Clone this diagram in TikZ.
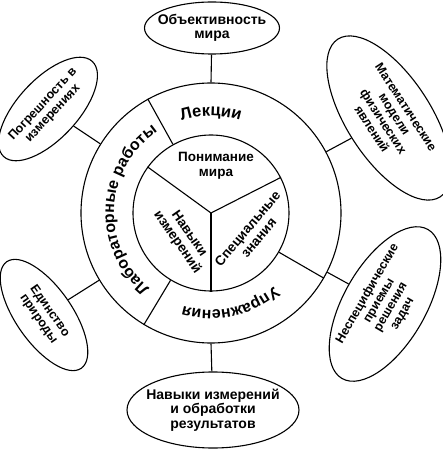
\documentclass[tikz,border=0pt]{standalone}
\usepackage{fontspec}
\setmainfont{Liberation Sans}
\usetikzlibrary{shapes.geometric,decorations.text}

\begin{document}
\begin{tikzpicture}[x=1pt,y=1pt,line width=1.1pt,font=\bfseries\fontsize{13.5}{14.5}\selectfont]
    \tikzstyle{oval}=[ellipse,draw,align=center,inner sep=-12pt,font=\bfseries\fontsize{12.5}{13.5}\selectfont]
    \tikzstyle{sector}=[align=center,inner sep=0pt]
    \tikzstyle{ringtext}=[decorate,decoration={text along path,text align=center}]
    \useasboundingbox (-211,-237) rectangle (231,213);
    \node[circle,draw,minimum size=260] (outer) at (0,0) {};
    \node[circle,draw,minimum size=156] (inner) at (0,0) {};
    \draw (inner.center) -- (inner.144);
    \draw (inner.center) -- (inner.27);
    \draw (inner.center) -- (inner.270);
    \draw (inner.119) -- (outer.119);
    \draw (inner.-30) -- (outer.-30);
    \draw (inner.-121) -- (outer.-121);
    \node[sector] (mir) at (5,47) {Понимание\\мира};
    \node[sector,rotate=-55] (izm) at (-28,-25) {Навыки\\измерений};
    \node[sector,rotate=50] (spec) at (42,-20) {Специальные\\знания};
    \path[ringtext,decoration={text={|\bfseries\fontsize{16.5}{16.5}\selectfont|Лекции}}]
        (150:97) arc[start angle=150,end angle=30,radius=97];
    \path[ringtext,decoration={text={|\bfseries\fontsize{16}{16}\selectfont|Лабораторные работы}}]
        (250:97) arc[start angle=250,end angle=104,radius=97];
    \path[ringtext,decoration={text={|\bfseries\fontsize{16}{16}\selectfont|Упражнения}}]
        (-20:97) arc[start angle=-20,end angle=-136,radius=97];
    \node[oval,minimum width=135,minimum height=52,font=\bfseries\fontsize{14}{14.5}\selectfont] (obj) at (1,185) {Объективность\\мира};
    \node[oval,minimum width=130,minimum height=60,rotate=47] (pogr) at (-163,104) {Погрешность в\\измерениях};
    \node[oval,minimum width=188,minimum height=84,rotate=-57] (mat) at (178,95) {Математические\\модели\\физических\\явлений};
    \node[oval,minimum width=172,minimum height=82,rotate=60] (nesp) at (174,-91) {Неспецифические\\приемы\\решения\\задач};
    \node[oval,minimum width=172,minimum height=76,font=\bfseries\fontsize{14}{14.5}\selectfont] (navobr) at (2,-197) {Навыки измерений\\и обработки\\результатов};
    \node[oval,minimum width=130,minimum height=56,rotate=-55] (edin) at (-167,-102) {Единство\\природы};
    \draw (outer.90) -- (obj);
    \draw (outer.148) -- (pogr);
    \draw (outer.28) -- (mat);
    \draw (outer.-27) -- (nesp);
    \draw (outer.270) -- (navobr);
    \draw (outer.211) -- (edin);
\end{tikzpicture}
\end{document}
